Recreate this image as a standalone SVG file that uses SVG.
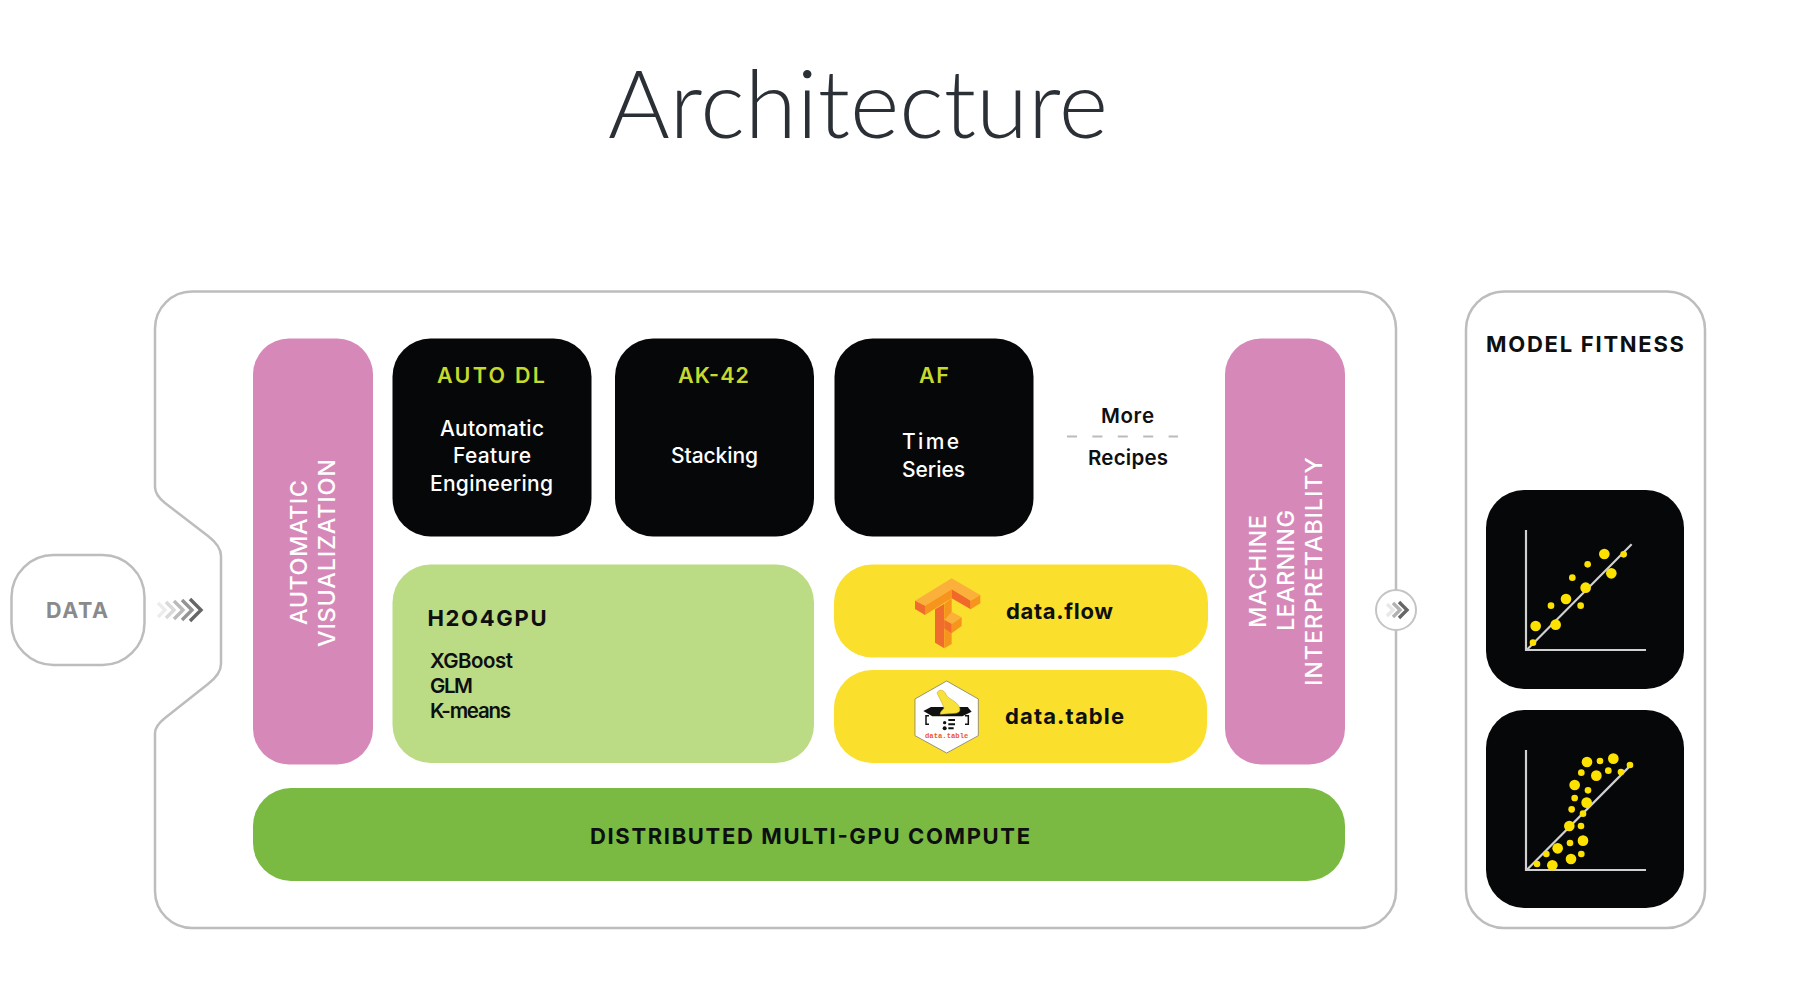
<svg xmlns="http://www.w3.org/2000/svg" width="1810" height="986" viewBox="0 0 1810 986">
<style>
text{font-family:"Inter","Liberation Sans",sans-serif}
.frame{fill:#fff;stroke:#bdbdbd;stroke-width:2.5}
.pink{fill:#d689b9}.blk{fill:#060708}.yel{fill:#fadf2d}
.lime{fill:#c6d92d;font-size:21.5px;font-weight:600}
.wh{fill:#fff;font-size:21px;font-weight:500}
.dk{fill:#0d0f10;font-size:20.5px;font-weight:600}
.cap{fill:#0d0f10;font-size:22px;font-weight:700}
.vert{fill:#fff;font-size:23.5px;font-weight:500}
.chev{fill:none;stroke:#666;stroke-width:3.4}
.axis{stroke:#d0d0d0;stroke-width:6.5;fill:none}
.d1{fill:#fde100}
</style>
<rect width="1810" height="986" fill="#fff"/>
<g id="title"><text x="608" y="137.500" font-size="95" font-weight="300" fill="#2b2f36" textLength="500" lengthAdjust="spacingAndGlyphs" style="font-family:Lato,Inter,sans-serif">Architecture</text></g>
<g id="platform"><path class="frame" d="M192 291.500H1359a37 37 0 0 1 37 37V891a37 37 0 0 1-37 37H192a37 37 0 0 1-37-37V733q0-7 10-15L208 684q13-10 13-20V556q0-10-13-20L165 503q-10-8-10-16V328.500a37 37 0 0 1 37-37z"/></g>
<g id="data"><rect class="frame" x="11.500" y="555" width="133" height="110" rx="42"/><text x="46" y="617.500" font-size="21.500" font-weight="700" fill="#8a8a8a" textLength="62">DATA</text></g>
<g id="auto-viz"><rect class="pink" x="253" y="338.500" width="120" height="426" rx="36"/>
<text class="vert" transform="translate(307 625) rotate(-90)" textLength="145">AUTOMATIC</text>
<text class="vert" transform="translate(335 647) rotate(-90)" textLength="188">VISUALIZATION</text></g>
<g id="auto-dl"><rect class="blk" x="392.500" y="338.500" width="199" height="198" rx="38"/>
<text class="lime" x="437" y="383" textLength="108">AUTO DL</text>
<text class="wh" x="440" y="436" textLength="104">Automatic</text>
<text class="wh" x="453" y="463" textLength="78">Feature</text>
<text class="wh" x="430" y="491" textLength="123">Engineering</text></g>
<g id="ak-42"><rect class="blk" x="615" y="338.500" width="199" height="198" rx="38"/>
<text class="lime" x="678" y="383" textLength="71">AK-42</text>
<text class="wh" x="671" y="463" textLength="87">Stacking</text></g>
<g id="af"><rect class="blk" x="834.500" y="338.500" width="199" height="198" rx="38"/>
<text class="lime" x="919" y="383" textLength="30">AF</text>
<text class="wh" x="902" y="449" textLength="57">Time</text>
<text class="wh" x="902" y="477" textLength="63">Series</text></g>
<g id="more-recipes">
<text class="dk" x="1101" y="422.500" textLength="53">More</text>
<path d="M1067 436.500H1178" stroke="#bbb" stroke-width="2" stroke-dasharray="10 15.400"/>
<text class="dk" x="1088" y="464.500" textLength="80">Recipes</text></g>
<g id="h2o4gpu"><rect x="392.500" y="564.500" width="421.500" height="198.500" rx="38" fill="#bcdb85"/>
<text class="cap" x="427.500" y="626" textLength="119">H2O4GPU</text>
<text class="dk" x="430" y="668" textLength="83">XGBoost</text>
<text class="dk" x="430" y="693" textLength="43">GLM</text>
<text class="dk" x="430" y="718" textLength="81">K-means</text></g>
<g id="data-flow"><rect class="yel" x="834" y="564.500" width="374" height="93" rx="38"/>
<g transform="translate(905 570) scale(.3333)">
<polygon points="30,92 140,25 226,75 197,92 140,58 60,107" fill="#fbb03b"/>
<polygon points="30,92 60,107 60,135 30,117" fill="#ef6c2e"/>
<polygon points="60,107 140,58 140,85 60,135" fill="#f7941e"/>
<polygon points="140,58 197,92 197,118 140,85" fill="#f1682b"/>
<polygon points="197,92 226,75 226,100 197,118" fill="#f7941e"/>
<polygon points="90,118 118,101 118,235 90,218" fill="#ef6c2e"/>
<polygon points="118,101 140,85 140,222 118,235" fill="#f7941e"/>
<polygon points="118,150 140,125 170,142 140,162" fill="#fbb03b"/>
<polygon points="118,150 140,162 140,190 118,175" fill="#ef6c2e"/>
<polygon points="140,162 170,142 170,168 140,190" fill="#f7941e"/>
</g>
<text class="cap" x="1006" y="618.500" textLength="107">data.flow</text></g>
<g id="data-table"><rect class="yel" x="834" y="670" width="373" height="93" rx="38"/>
<g transform="translate(905 675) scale(.3333)">
<polygon points="125,18 220,72 220,182 125,234 30,182 30,72" fill="#fff" stroke="#666" stroke-width="2"/>
<path d="M55 108L78 96H188L200 110L172 124H82z" fill="#111"/>
<path d="M96 54C102 40 118 44 124 60C130 72 152 76 162 94C168 106 164 114 150 115L106 118C104 112 112 106 117 100C112 84 104 70 96 54z" fill="#f7e13a" stroke="#b9a020" stroke-width="1.500"/>
<path d="M72 122H63V148H72M180 122H190V148H180" fill="none" stroke="#111" stroke-width="4.500"/>
<circle cx="119" cy="143" r="5" fill="#111"/><circle cx="119" cy="160" r="6" fill="#111"/>
<path d="M130 135H150M130 148H150M130 160H146" stroke="#111" stroke-width="6"/>
<text x="60" y="188" font-size="21.500" font-weight="700" fill="#f0552d" textLength="130" style="font-family:'Liberation Mono',monospace">data.table</text>
</g>
<text class="cap" x="1005" y="723.500" textLength="119">data.table</text></g>
<g id="mli"><rect class="pink" x="1225" y="338.500" width="120" height="426" rx="36"/>
<text class="vert" transform="translate(1266 628) rotate(-90)" textLength="113">MACHINE</text>
<text class="vert" transform="translate(1294 631) rotate(-90)" textLength="121">LEARNING</text>
<text class="vert" transform="translate(1322 686) rotate(-90)" textLength="229">INTERPRETABILITY</text></g>
<g id="compute"><rect x="253" y="788" width="1092" height="93" rx="38" fill="#7ab942"/>
<text class="cap" x="590" y="844" textLength="440">DISTRIBUTED MULTI-GPU COMPUTE</text></g>
<g id="model-fitness"><rect class="frame" x="1466" y="291.500" width="239" height="636.500" rx="38"/>
<text class="cap" x="1486" y="351.500" textLength="198">MODEL FITNESS</text></g>
<g id="plot-1"><rect class="blk" x="1486" y="490" width="198" height="199" rx="38"/>
<g transform="translate(1470 480) scale(.3333)">
<path class="axis" d="M168 150V510H528M170 510L485 193"/>
<g class="d1"><circle cx="189" cy="488" r="10"/><circle cx="197" cy="438" r="16"/><circle cx="257" cy="434" r="16"/><circle cx="243" cy="377" r="10"/><circle cx="288" cy="357" r="16"/><circle cx="332" cy="377" r="10"/><circle cx="347" cy="323" r="16"/><circle cx="307" cy="293" r="10"/><circle cx="353" cy="253" r="10"/><circle cx="403" cy="222" r="16"/><circle cx="424" cy="280" r="16"/><circle cx="461" cy="223" r="10"/></g>
</g></g>
<g id="plot-2"><rect class="blk" x="1486" y="710" width="198" height="198" rx="38"/>
<g transform="translate(1470 480) scale(.3333)">
<path class="axis" d="M168 810V1170H528M170 1170L478 860"/>
<g class="d1"><circle cx="201" cy="1152" r="10"/><circle cx="247" cy="1156" r="16"/><circle cx="229" cy="1122" r="10"/><circle cx="263" cy="1105" r="16"/><circle cx="303" cy="1137" r="16"/><circle cx="334" cy="1122" r="10"/><circle cx="300" cy="1089" r="10"/><circle cx="339" cy="1082" r="16"/><circle cx="298" cy="1038" r="16"/><circle cx="333" cy="1038" r="10"/><circle cx="339" cy="1001" r="10"/><circle cx="305" cy="988" r="10"/><circle cx="350" cy="968" r="16"/><circle cx="314" cy="954" r="10"/><circle cx="354" cy="931" r="10"/><circle cx="314" cy="915" r="16"/><circle cx="334" cy="878" r="10"/><circle cx="379" cy="887" r="16"/><circle cx="351" cy="846" r="16"/><circle cx="390" cy="843" r="10"/><circle cx="430" cy="836" r="16"/><circle cx="415" cy="872" r="10"/><circle cx="453" cy="876" r="10"/><circle cx="480" cy="855" r="10"/></g>
</g></g>
<g id="connectors">
<g id="data-arrow">
<path class="chev" opacity=".12" d="M158 603l7 7l-7 7"/>
<path class="chev" opacity=".25" d="M166 602l8 8l-8 8"/>
<path class="chev" opacity=".45" d="M174 601l9 9l-9 9"/>
<path class="chev" opacity=".7" d="M182 600l10 10l-10 10"/>
<path class="chev" d="M190 599l11 11l-11 11"/>
</g>
<g id="out-arrow">
<circle cx="1396" cy="610" r="20" fill="#fff" stroke="#c4c4c4" stroke-width="2"/>
<path class="chev" opacity=".15" stroke-width="2" d="M1387 604l6 6l-6 6"/>
<path class="chev" opacity=".5" d="M1393 603l7 7l-7 7"/>
<path class="chev" d="M1399 602l8 8l-8 8"/>
</g>
</g>
</svg>
